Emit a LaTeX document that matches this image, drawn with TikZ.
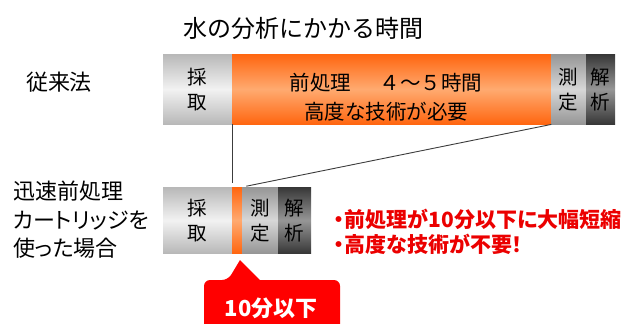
\documentclass[tikz,border=0pt]{standalone}
\usepackage{fontspec}
\newfontfamily\cjk{Noto Sans CJK JP}
\newfontfamily\cjkp[RawFeature=+palt]{Noto Sans CJK JP}
\definecolor{orangeA}{RGB}{255,102,16}
\definecolor{orangeB}{RGB}{255,170,112}
\definecolor{lgA}{RGB}{184,184,184}
\definecolor{lgB}{RGB}{242,242,242}
\definecolor{mgA}{RGB}{150,150,150}
\definecolor{mgB}{RGB}{215,215,215}
\definecolor{dgA}{RGB}{55,55,55}
\definecolor{dgB}{RGB}{150,150,150}
\definecolor{calloutred}{RGB}{255,0,0}
\definecolor{bulletred}{RGB}{235,0,0}
\definecolor{linegray}{RGB}{60,60,60}
\tikzset{
  seg/.style={draw=none, inner sep=0pt, anchor=north west, align=center,
    font=\cjk\fontsize{19.5}{25}\selectfont},
  segl/.style={seg, top color=lgA, bottom color=lgA, middle color=lgB},
  sego/.style={seg, top color=orangeA, bottom color=orangeA, middle color=orangeB},
  segm/.style={seg, top color=mgA, bottom color=mgA, middle color=mgB},
  segd/.style={seg, top color=dgA, bottom color=dgA, middle color=dgB},
  lab/.style={inner sep=0pt, font=\cjkp\fontsize{22}{28.5}\selectfont},
  conn/.style={draw=linegray, line width=0.9pt},
}
\begin{document}
\begin{tikzpicture}[x=1pt,y=-1pt]
\useasboundingbox (0,0) rectangle (632,324);
% title
\node[inner sep=0pt, font=\cjk\fontsize{24}{28}\selectfont] (title) at (303,28) {水の分析にかかる時間};
% left labels
\node[lab] (conv) at (59,82) {従来法};
\node[lab, anchor=west, align=left] (rapid) at (13,220) {迅速前処理\\カートリッジを\\使った場合};
% top bar
\node[segl, minimum width=69pt, minimum height=70pt] (c1) at (163,54) {採\\取};
\node[sego, minimum width=319pt, minimum height=70pt] (pre1) at (232,54) {};
\node[inner sep=0pt, align=center, font=\cjk\fontsize{20.5}{29}\selectfont] (pre1t) at (386,97)
  {前処理\hspace{1.4em}４～５時間\\高度な技術が必要};
\node[segm, minimum width=35pt, minimum height=70pt] (m1) at (551,54) {測\\定};
\node[segd, minimum width=29pt, minimum height=70pt] (a1) at (586,54) {解\\析};
% bottom bar
\node[segl, minimum width=69pt, minimum height=66pt] (c2) at (163,187) {採\\取};
\node[sego, minimum width=10pt, minimum height=66pt] (pre2) at (232,187) {};
\node[segm, minimum width=36pt, minimum height=66pt] (m2) at (242,187) {測\\定};
\node[segd, minimum width=33pt, minimum height=66pt] (a2) at (278,187) {解\\析};
% connectors
\draw[conn, shorten >=4pt] (pre1.south west) -- (pre2.north west);
\draw[conn, shorten >=4pt] (pre1.south east) -- (pre2.north east);
% red notes
\node[inner sep=0pt, anchor=west, align=left, text=bulletred,
  font=\cjkp\bfseries\fontsize{21}{25}\selectfont] (notes) at (334,232)
  {・前処理が10分以下に大幅短縮\\・高度な技術が不要！};
% callout
\coordinate (tip) at (240,260);
\fill[calloutred, rounded corners=6pt] (204,335) -- (204,280) -- (228,280)
  [sharp corners] -- (tip) -- (260,280) [rounded corners=6pt] -- (340,280) -- (340,335) -- cycle;
\node[inner sep=0pt, text=white, font=\cjk\bfseries\fontsize{22}{26}\selectfont] (callout) at (271,308) {10分以下};
\end{tikzpicture}
\end{document}
